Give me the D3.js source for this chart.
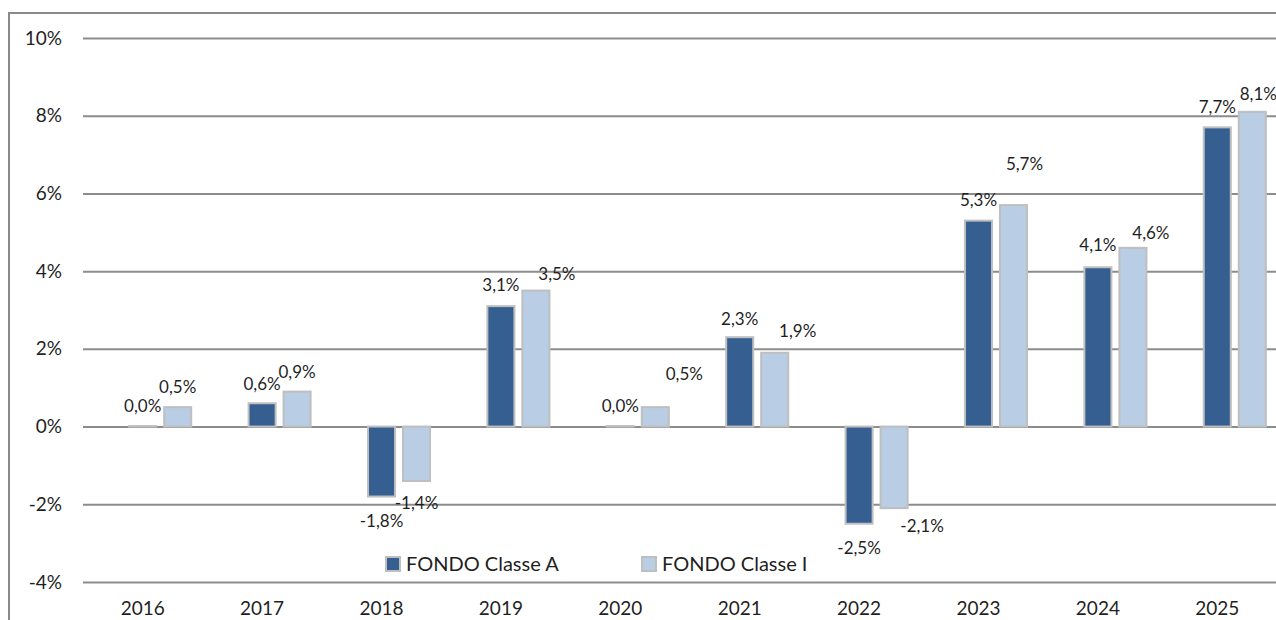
<!DOCTYPE html>
<html>
<head>
<meta charset="utf-8">
<script src="https://cdn.jsdelivr.net/npm/d3@7"></script>
<style>
  body { margin: 0; background: #fff; }
  svg text { font-family: Lato, "Open Sans", sans-serif; fill: #1f1f1f; }
</style>
</head>
<body>
<div id="chart"></div>
<script>
// data
var years = ["2016", "2017", "2018", "2019", "2020", "2021", "2022", "2023", "2024", "2025"];
var classeA = [0.0, 0.6, -1.8, 3.1, 0.0, 2.3, -2.5, 5.3, 4.1, 7.7];
var classeI = [0.5, 0.9, -1.4, 3.5, 0.5, 1.9, -2.1, 5.7, 4.6, 8.1];
var yTicks = [-4, -2, 0, 2, 4, 6, 8, 10];
var seriesNames = ["FONDO Classe A", "FONDO Classe I"];

// hand-moved data labels in the original (dx, dy in px)
var nudgeA = [[0, -1], [0, 1], [0, 3], [0, -1], [0, -1], [0, 2], [0, 2], [0, -1], [0, -2], [0, 0]];
var nudgeI = [[0, 0], [0, 0], [0, 0], [21, 3], [29, -13], [23, -2], [28, -4], [11, -21], [18, 5], [6, 2]];

var colors = { A: "#365f91", I: "#b9cde5" };

var svgWidth = 1276;
var svgHeight = 620;

var margin = {
  top: 38,
  right: 0,
  bottom: 38,
  left: 83
};

var width = 1194;
var height = svgHeight - margin.top - margin.bottom;

var svg = d3.select("#chart")
  .append("svg")
  .attr("width", svgWidth)
  .attr("height", svgHeight);

// outer frame (right and bottom edges fall outside the picture)
svg.append("rect")
  .attr("x", 9)
  .attr("y", 13)
  .attr("width", 1300)
  .attr("height", 700)
  .attr("fill", "none")
  .attr("stroke", "#8a8a8a")
  .attr("stroke-width", 2);

var chartGroup = svg.append("g")
  .attr("transform", `translate(${margin.left}, ${margin.top})`);

var x = d3.scaleBand()
  .domain(years)
  .range([0, width]);

// A sits on the category centre, I one slot to its right
var x1 = d3.scaleBand()
  .domain(["A", "I"])
  .range([-17.5, 52.5])
  .paddingInner(0.17)
  .paddingOuter(0.085);

var y = d3.scaleLinear()
  .domain([-4, 10])
  .range([height, 0]);

var fmt = d3.formatLocale({ decimal: ",", thousands: ".", grouping: [3], currency: ["", "€"], minus: "-" }).format(".1f");

// gridlines + y labels
var leftAxis = d3.axisLeft(y)
  .tickValues(yTicks)
  .tickSize(-(svgWidth - margin.left + 10))
  .tickPadding(21)
  .tickFormat(function(d) { return d + "%"; });

var yAxisG = chartGroup.append("g").call(leftAxis);
yAxisG.select(".domain").remove();
yAxisG.selectAll(".tick line")
  .attr("stroke", "#8c8c8c")
  .attr("stroke-width", 2);
yAxisG.selectAll(".tick text")
  .style("font-size", "19px")
  .attr("fill", "#1f1f1f");

// x labels
var bottomAxis = d3.axisBottom(x).tickSize(0).tickPadding(20);
var xAxisG = chartGroup.append("g")
  .attr("transform", `translate(0, ${height})`)
  .call(bottomAxis);
xAxisG.select(".domain").remove();
xAxisG.selectAll(".tick text")
  .style("font-size", "19px")
  .attr("fill", "#1f1f1f");

var rows = years.map(function(yr, i) {
  return { year: yr, i: i, values: [{ key: "A", v: classeA[i], nudge: nudgeA[i] }, { key: "I", v: classeI[i], nudge: nudgeI[i] }] };
});

var groups = chartGroup.selectAll(".year")
  .data(rows)
  .enter()
  .append("g")
  .attr("class", "year")
  .attr("transform", function(d) { return `translate(${x(d.year) + x.bandwidth() / 2}, 0)`; });

// zero bars still show their border, as in the original
groups.selectAll("rect")
  .data(function(d) { return d.values; })
  .enter()
  .append("rect")
  .attr("x", function(d) { return x1(d.key) + 1; })
  .attr("width", x1.bandwidth() - 2)
  .attr("y", function(d) { return d.v === 0 ? y(0) - 0.5 : y(Math.max(0, d.v)); })
  .attr("height", function(d) { return Math.max(0.5, Math.abs(y(d.v) - y(0))); })
  .attr("fill", function(d) { return colors[d.key]; })
  .attr("stroke", "#bfbfbf")
  .attr("stroke-width", 2);

groups.selectAll("text.lbl")
  .data(function(d) { return d.values; })
  .enter()
  .append("text")
  .attr("class", "lbl")
  .attr("text-anchor", "middle")
  .attr("dy", "0.35em")
  .style("font-size", "17px")
  .attr("x", function(d) { return x1(d.key) + x1.bandwidth() / 2 + d.nudge[0]; })
  .attr("y", function(d) {
    var base = d.v >= 0 ? y(d.v) - 20 : y(d.v) + 22;
    return base + d.nudge[1];
  })
  .text(function(d) { return fmt(d.v) + "%"; });

// legend
var legend = svg.append("g").attr("transform", "translate(386, 557)");
var legendItems = legend.selectAll("g")
  .data(seriesNames)
  .enter()
  .append("g")
  .attr("transform", function(d, i) { return `translate(${i * 256}, 0)`; });

legendItems.append("rect")
  .attr("x", 0)
  .attr("y", 0)
  .attr("width", 14)
  .attr("height", 14)
  .attr("fill", function(d, i) { return i === 0 ? colors.A : colors.I; })
  .attr("stroke", "#bfbfbf")
  .attr("stroke-width", 2);

legendItems.append("text")
  .attr("x", 20)
  .attr("y", 7)
  .attr("dy", "0.35em")
  .style("font-size", "20px")
  .text(function(d) { return d; });
</script>
</body>
</html>
